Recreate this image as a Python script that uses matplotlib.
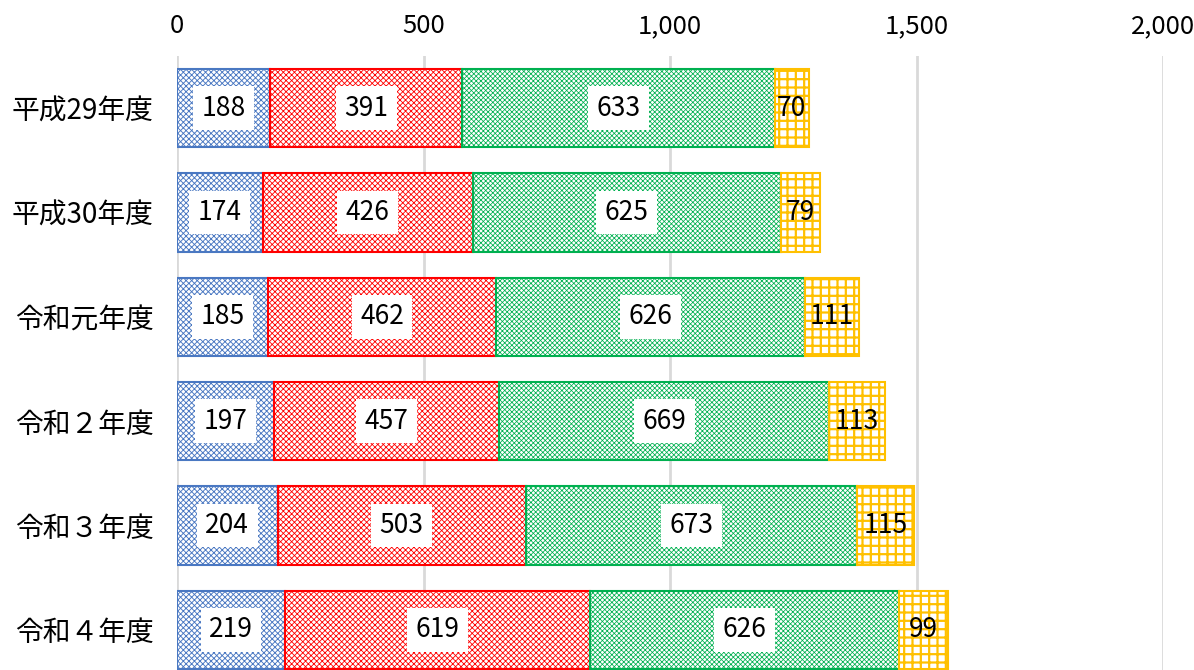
import matplotlib
matplotlib.use("Agg")
import matplotlib.pyplot as plt
from matplotlib.ticker import FuncFormatter

plt.rcParams["font.family"] = ["Noto Sans CJK JP", "DejaVu Sans"]

YEARS = ["平成29年度", "平成30年度", "令和元年度", "令和２年度", "令和３年度", "令和４年度"]
SERIES_A = [188, 174, 185, 197, 204, 219]
SERIES_B = [391, 426, 462, 457, 503, 619]
SERIES_C = [633, 625, 626, 669, 673, 626]
SERIES_D = [70, 79, 111, 113, 115, 99]

COLORS = ["#4A78C2", "#FF0000", "#00B050", "#FFC000"]
HATCHES = ["xxxxxx", "xxxxxx", "xxxxxxx", "++"]
HATCH_LW = [0.65, 0.6, 0.55, 1.6]
BOXED = [True, True, True, False]


def main():
    fig = plt.figure(figsize=(11.94, 6.70), dpi=100, facecolor="white")
    ax = fig.add_axes([177 / 1194, -12 / 670, (1163 - 177) / 1194, 626 / 670])

    series = [SERIES_A, SERIES_B, SERIES_C, SERIES_D]
    ypos = list(range(len(YEARS)))
    left = [0] * len(YEARS)
    for vals, col, hatch, hlw, boxed in zip(series, COLORS, HATCHES, HATCH_LW, BOXED):
        plt.rcParams["hatch.linewidth"] = hlw
        bars = ax.barh(ypos, vals, left=left, height=0.75, color="white",
                       edgecolor=col, hatch=hatch, linewidth=1.5, zorder=3)
        for b in bars:
            try:
                b.set_hatch_linewidth(hlw)
            except AttributeError:
                pass
        for y, v, l in zip(ypos, vals, left):
            kw = {}
            if boxed:
                kw["bbox"] = dict(boxstyle="square,pad=0.32", facecolor="white",
                                  edgecolor="none")
            ax.text(l + v / 2, y, f"{v}", ha="center", va="center",
                    fontsize=19, color="black", zorder=5, **kw)
        left = [a + b for a, b in zip(left, vals)]

    ax.set_xlim(0, 2000)
    ax.set_ylim(len(YEARS) - 0.5, -0.5)
    ax.set_yticks(ypos)
    ax.set_yticklabels(YEARS, fontsize=20)
    ax.set_xticks([0, 500, 1000, 1500, 2000])
    ax.xaxis.set_major_formatter(FuncFormatter(lambda v, p: f"{int(v):,}"))
    ax.xaxis.tick_top()
    ax.tick_params(axis="x", labelsize=18.5, length=0, pad=12)
    ax.tick_params(axis="y", length=0, pad=17)
    ax.grid(axis="x", color="#D9D9D9", linewidth=2, zorder=0)
    for s in ax.spines.values():
        s.set_visible(False)

    fig.savefig("out.png", dpi=100, facecolor="white")


if __name__ == "__main__":
    main()
